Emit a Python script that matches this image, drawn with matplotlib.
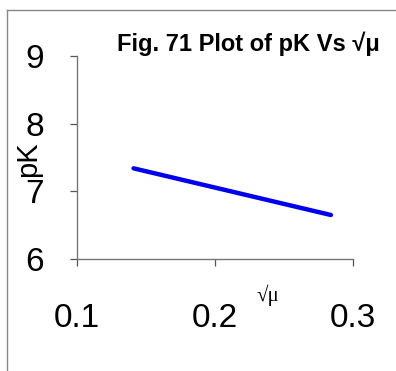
import matplotlib.pyplot as plt
from matplotlib.lines import Line2D

# values
sqrt_mu = [0.141, 0.284]
pK = [7.34, 6.65]
x_ticks = [0.1, 0.2, 0.3]
y_ticks = [6, 7, 8, 9]

W, H = 396, 371
fig = plt.figure(figsize=(W / 100, H / 100), dpi=100)
ax = fig.add_axes([77 / W, 1 - 259 / H, (353 - 77) / W, (259 - 56) / H])

ax.plot(sqrt_mu, pK, color='#0000ee', linewidth=3.2, solid_capstyle='round')

ax.set_xlim(0.1, 0.3)
ax.set_ylim(6, 9)
ax.set_xticks(x_ticks)
ax.set_xticklabels([str(v) for v in x_ticks])
ax.set_yticks(y_ticks)
ax.set_yticklabels([str(v) for v in y_ticks])

for s in ['top', 'right']:
    ax.spines[s].set_visible(False)
for s in ['left', 'bottom']:
    ax.spines[s].set_color('#777777')
    ax.spines[s].set_linewidth(1.0)

ax.tick_params(axis='both', direction='out', length=5, width=0.9, color='#555555')
ax.tick_params(axis='x', pad=27, labelsize=24)
ax.tick_params(axis='y', pad=19, labelsize=24)
for lab in ax.get_xticklabels() + ax.get_yticklabels():
    lab.set_family(['Liberation Sans', 'DejaVu Sans'])

fig.text(28 / W, 1 - 159 / H, 'pK', rotation=90, ha='center', va='center',
         fontsize=21, family=['Liberation Sans', 'DejaVu Sans'])
fig.text(268 / W, 1 - 295 / H, '√μ', ha='center', va='center',
         fontsize=15, family=['Liberation Serif', 'DejaVu Serif'])
fig.text(248 / W, 1 - 44 / H, 'Fig. 71 Plot of pK Vs √μ', ha='center', va='center',
         fontsize=17, fontweight='bold', family=['Liberation Sans', 'DejaVu Sans'])

# frame around the figure (left and top edges visible)
fig.add_artist(Line2D([7 / W, 7 / W], [0, 1 - 10 / H], color='#888888', linewidth=1))
fig.add_artist(Line2D([7 / W, 1], [1 - 10 / H, 1 - 10 / H], color='#888888', linewidth=1))

fig.savefig('out.png', dpi=100)
